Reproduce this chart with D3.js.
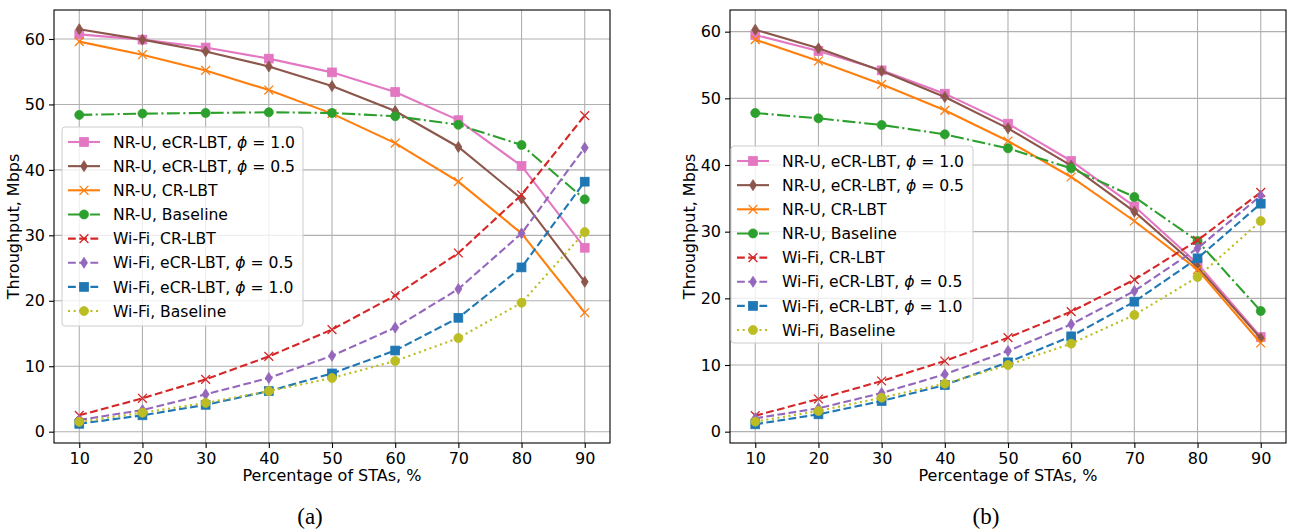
<!DOCTYPE html>
<html>
<head>
<meta charset="utf-8">
<script src="https://cdn.jsdelivr.net/npm/d3@7"></script>
<style>
  body { margin: 0; background: #fff; }
  svg { display: block; }
</style>
</head>
<body>
<div id="chart"></div>
<script>
// x values (percentage of STAs)
var stas = [10, 20, 30, 40, 50, 60, 70, 80, 90];
var yTicks = [0, 10, 20, 30, 40, 50, 60];

// panel (a)
var aNrEcr10 = [60.7, 59.9, 58.7, 57.0, 54.9, 51.9, 47.6, 40.6, 28.1];
var aNrEcr05 = [61.5, 59.9, 58.1, 55.8, 52.8, 49.0, 43.5, 35.6, 22.9];
var aNrCr    = [59.6, 57.6, 55.2, 52.2, 48.6, 44.1, 38.2, 30.3, 18.2];
var aNrBase  = [48.4, 48.6, 48.7, 48.8, 48.7, 48.2, 46.9, 43.8, 35.5];
var aWfCr    = [2.5, 5.1, 8.0, 11.5, 15.6, 20.8, 27.3, 36.2, 48.3];
var aWfEcr05 = [1.8, 3.3, 5.7, 8.2, 11.6, 15.9, 21.8, 30.3, 43.4];
var aWfEcr10 = [1.2, 2.5, 4.1, 6.2, 8.9, 12.4, 17.4, 25.1, 38.2];
var aWfBase  = [1.5, 2.9, 4.4, 6.2, 8.2, 10.8, 14.3, 19.7, 30.5];

// panel (b)
var bNrEcr10 = [59.5, 57.1, 54.2, 50.7, 46.2, 40.6, 33.8, 25.2, 14.2];
var bNrEcr05 = [60.3, 57.5, 54.1, 50.2, 45.5, 39.9, 33.0, 24.7, 14.0];
var bNrCr    = [58.8, 55.6, 52.1, 48.2, 43.6, 38.2, 31.6, 24.3, 13.3];
var bNrBase  = [47.8, 47.0, 46.0, 44.6, 42.5, 39.5, 35.2, 28.6, 18.1];
var bWfCr    = [2.4, 4.9, 7.6, 10.6, 14.1, 18.0, 22.8, 28.7, 35.9];
var bWfEcr05 = [2.0, 3.5, 5.8, 8.6, 12.1, 16.1, 21.1, 27.5, 35.4];
var bWfEcr10 = [1.1, 2.6, 4.6, 7.0, 10.4, 14.3, 19.5, 26.0, 34.2];
var bWfBase  = [1.5, 3.1, 5.1, 7.2, 10.0, 13.2, 17.5, 23.2, 31.6];

var labels = [
  ["NR-U, eCR-LBT, ", "1.0"],
  ["NR-U, eCR-LBT, ", "0.5"],
  ["NR-U, CR-LBT", null],
  ["NR-U, Baseline", null],
  ["Wi-Fi, CR-LBT", null],
  ["Wi-Fi, eCR-LBT, ", "0.5"],
  ["Wi-Fi, eCR-LBT, ", "1.0"],
  ["Wi-Fi, Baseline", null]
];
var colors = ["#e377c2", "#8c564b", "#ff7f0e", "#2ca02c", "#d62728", "#9467bd", "#1f77b4", "#bcbd22"];
var markers = ["square", "diamond", "x", "circle", "x", "diamond", "square", "circle"];
var dashes = [null, null, null, "13,3.4,2.1,3.4", "7.8,3.4", "7.8,3.4", "7.8,3.4", "2.1,3.5"];

var W = 1291, H = 531;
var FONT = "'DejaVu Sans', sans-serif";
var svg = d3.select("#chart").append("svg").attr("width", W).attr("height", H);

var panels = [
  { name: "(a)", data: [aNrEcr10, aNrEcr05, aNrCr, aNrBase, aWfCr, aWfEcr05, aWfEcr10, aWfBase],
    left: 54, right: 610, top: 10, bottom: 443, yDom: [-1.73, 64.43],
    legend: { x: 62, y: 127, w: 241, h: 199 } },
  { name: "(b)", data: [bNrEcr10, bNrEcr05, bNrCr, bNrBase, bWfCr, bWfEcr05, bWfEcr10, bWfBase],
    left: 730, right: 1286, top: 10, bottom: 443, yDom: [-1.7, 63.25],
    legend: { x: 731, y: 146, w: 242, h: 197 } }
];

function drawMarker(g, type, cx, cy, color) {
  if (type === "square") {
    g.append("rect").attr("x", cx - 4.4).attr("y", cy - 4.4).attr("width", 8.8).attr("height", 8.8)
      .attr("fill", color).attr("stroke", color).attr("stroke-width", 0.8);
  } else if (type === "circle") {
    g.append("circle").attr("cx", cx).attr("cy", cy).attr("r", 4.5)
      .attr("fill", color).attr("stroke", color).attr("stroke-width", 0.8);
  } else if (type === "diamond") {
    g.append("path").attr("d", "M" + cx + "," + (cy - 5.5) + "L" + (cx + 3.5) + "," + cy +
        "L" + cx + "," + (cy + 5.5) + "L" + (cx - 3.5) + "," + cy + "Z")
      .attr("fill", color).attr("stroke", color).attr("stroke-width", 0.8);
  } else if (type === "x") {
    var s = 4.4;
    g.append("path").attr("d", "M" + (cx - s) + "," + (cy - s) + "L" + (cx + s) + "," + (cy + s) +
        "M" + (cx - s) + "," + (cy + s) + "L" + (cx + s) + "," + (cy - s))
      .attr("fill", "none").attr("stroke", color).attr("stroke-width", 1.3);
  }
}

panels.forEach(function(p, pi) {
  var x = d3.scaleLinear().domain([6, 94]).range([p.left, p.right]);
  var y = d3.scaleLinear().domain(p.yDom).range([p.bottom, p.top]);
  var g = svg.append("g");

  // grid
  g.append("g").selectAll("line").data(stas).enter().append("line")
    .attr("x1", function(d) { return x(d); }).attr("x2", function(d) { return x(d); })
    .attr("y1", p.top).attr("y2", p.bottom)
    .attr("stroke", "#b0b0b0").attr("stroke-width", 1.1);
  g.append("g").selectAll("line").data(yTicks).enter().append("line")
    .attr("y1", function(d) { return y(d); }).attr("y2", function(d) { return y(d); })
    .attr("x1", p.left).attr("x2", p.right)
    .attr("stroke", "#b0b0b0").attr("stroke-width", 1.1);

  // axes
  var xAxis = g.append("g").attr("transform", "translate(0," + p.bottom + ")")
    .call(d3.axisBottom(x).tickValues(stas).tickSize(5).tickPadding(5).tickFormat(d3.format("d")));
  var yAxis = g.append("g").attr("transform", "translate(" + p.left + ",0)")
    .call(d3.axisLeft(y).tickValues(yTicks).tickSize(5).tickPadding(4).tickFormat(d3.format("d")));
  [xAxis, yAxis].forEach(function(a) {
    a.select(".domain").remove();
    a.selectAll("line").attr("stroke", "#000").attr("stroke-width", 1.1);
    a.selectAll("text").attr("font-family", FONT).attr("font-size", 16).attr("fill", "#000");
  });

  // series
  var clipId = "clip" + pi;
  svg.append("clipPath").attr("id", clipId).append("rect")
    .attr("x", p.left).attr("y", p.top).attr("width", p.right - p.left).attr("height", p.bottom - p.top);
  var line = d3.line().x(function(d, i) { return x(stas[i]); }).y(function(d) { return y(d); });
  p.data.forEach(function(vals, si) {
    var sg = g.append("g");
    sg.append("path").datum(vals).attr("d", line)
      .attr("clip-path", "url(#" + clipId + ")")
      .attr("fill", "none").attr("stroke", colors[si]).attr("stroke-width", 2.1)
      .attr("stroke-dasharray", dashes[si]);
    vals.forEach(function(v, i) { drawMarker(sg, markers[si], x(stas[i]), y(v), colors[si]); });
  });

  // frame
  g.append("rect").attr("x", p.left).attr("y", p.top)
    .attr("width", p.right - p.left).attr("height", p.bottom - p.top)
    .attr("fill", "none").attr("stroke", "#000").attr("stroke-width", 1.1);

  // axis labels
  g.append("text").attr("x", (p.left + p.right) / 2).attr("y", 481)
    .attr("text-anchor", "middle").attr("font-family", FONT).attr("font-size", 16)
    .text("Percentage of STAs, %");
  g.append("text").attr("transform", "translate(" + (p.left - 35) + "," + ((p.top + p.bottom) / 2) + ") rotate(-90)")
    .attr("text-anchor", "middle").attr("font-family", FONT).attr("font-size", 16)
    .text("Throughput, Mbps");
  g.append("text").attr("x", (p.left + p.right) / 2 - 22).attr("y", 524)
    .attr("text-anchor", "middle").attr("font-family", "'Liberation Serif', serif").attr("font-size", 23)
    .text(p.name);

  // legend
  var L = p.legend;
  var lg = g.append("g");
  lg.append("rect").attr("x", L.x).attr("y", L.y).attr("width", L.w).attr("height", L.h)
    .attr("rx", 3).attr("fill", "#fff").attr("fill-opacity", 0.8)
    .attr("stroke", "#cccccc").attr("stroke-width", 1);
  labels.forEach(function(lab, si) {
    var cy = L.y + 15 + si * 24.15;
    lg.append("line").attr("x1", L.x + 6).attr("x2", L.x + 38).attr("y1", cy).attr("y2", cy)
      .attr("stroke", colors[si]).attr("stroke-width", 2.1).attr("stroke-dasharray", dashes[si]);
    drawMarker(lg, markers[si], L.x + 22, cy, colors[si]);
    var t = lg.append("text").attr("x", L.x + 51).attr("y", cy + 5.6)
      .attr("font-family", FONT).attr("font-size", 15.6);
    t.append("tspan").text(lab[0]);
    if (lab[1]) {
      t.append("tspan").attr("font-style", "italic").text("\u03d5");
      t.append("tspan").text(" = " + lab[1]);
    }
  });
});
</script>
</body>
</html>
